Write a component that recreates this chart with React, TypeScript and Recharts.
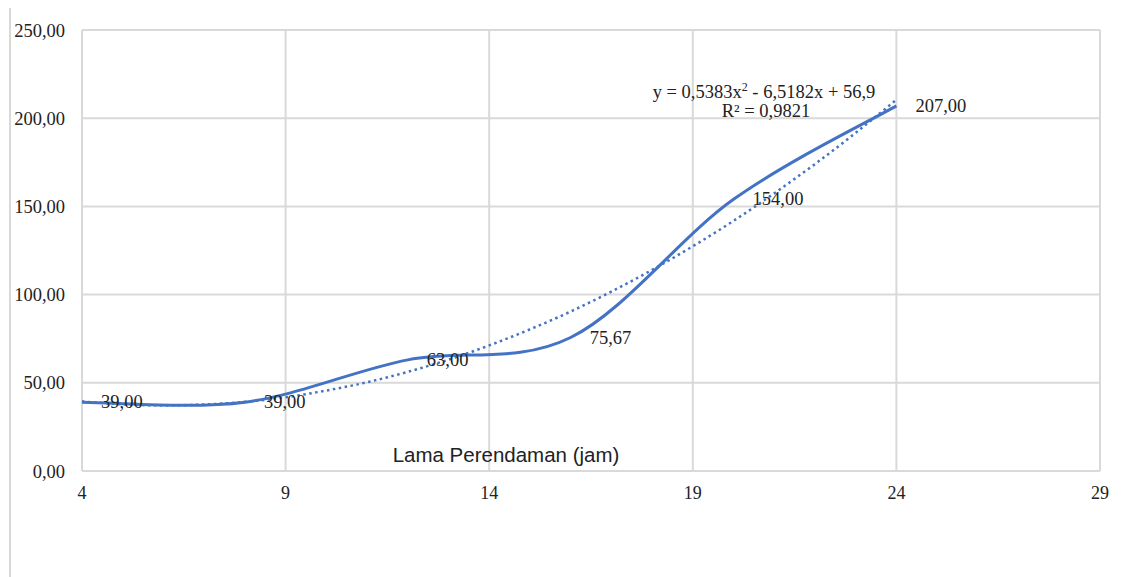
import { LineChart, Line, XAxis, YAxis, CartesianGrid, LabelList } from 'recharts';

const hours = [4, 8, 12, 16, 20, 24];
const rate = [39, 39, 63, 75.67, 154, 207];

// polynomial trendline
const trendHours = [4, 5, 6, 7, 8, 9, 10, 11, 12, 13, 14, 15, 16, 17, 18, 19, 20, 21, 22, 23, 24];
const trendRate = [39.4, 37.8, 37.2, 37.7, 39.2, 41.8, 45.6, 50.3, 56.2, 63.1, 71.2, 80.3, 90.4, 101.7, 114.0, 127.4, 141.8, 157.4, 174.0, 191.7, 210.5];

const xTicks = [4, 9, 14, 19, 24, 29];
const yTicks = [0, 50, 100, 150, 200, 250];

const BLUE = '#4472C4';
const GRID = '#d9d9d9';
const SERIF = '"Liberation Serif", "Times New Roman", serif';

const mainData = hours.map((h, i) => ({ x: h, y: rate[i] }));
const trendData = trendHours.map((h, i) => ({ x: h, y: trendRate[i] }));

const fmt = (v: number) => v.toFixed(2).replace('.', ',');

// Excel-style smoothed line (Catmull-Rom through the points)
function excelSmooth(context: any) {
  let pts: number[][] = [];
  return {
    areaStart() {},
    areaEnd() {},
    lineStart() {
      pts = [];
    },
    lineEnd() {
      const n = pts.length;
      if (!n) return;
      context.moveTo(pts[0][0], pts[0][1]);
      for (let i = 0; i < n - 1; i++) {
        const p0 = pts[Math.max(i - 1, 0)];
        const p1 = pts[i];
        const p2 = pts[i + 1];
        const p3 = pts[Math.min(i + 2, n - 1)];
        context.bezierCurveTo(
          p1[0] + (p2[0] - p0[0]) / 6,
          p1[1] + (p2[1] - p0[1]) / 6,
          p2[0] - (p3[0] - p1[0]) / 6,
          p2[1] - (p3[1] - p1[1]) / 6,
          p2[0],
          p2[1]
        );
      }
    },
    point(x: number, y: number) {
      pts.push([+x, +y]);
    },
  };
}

const PointLabel = (props: any) => {
  const { x, y, value } = props;
  return (
    <text x={x + 19} y={y + 6} fontFamily={SERIF} fontSize={18.5} fill="#222">
      {fmt(value)}
    </text>
  );
};

export default function App() {
  return (
    <div style={{ position: 'absolute', left: 0, top: 0, width: 1134, height: 577, background: '#fff' }}>
      <div style={{ position: 'absolute', left: 9, top: 8, width: 2, height: 569, background: GRID }} />
      <LineChart
        width={1134}
        height={577}
        margin={{ top: 30, right: 34, bottom: 76, left: 0 }}
      >
        <CartesianGrid stroke={GRID} strokeWidth={2} horizontalValues={yTicks} verticalValues={xTicks} />
        <XAxis
          type="number"
          dataKey="x"
          domain={[4, 29]}
          ticks={xTicks}
          allowDataOverflow
          height={30}
          axisLine={{ stroke: GRID, strokeWidth: 2 }}
          tickLine={false}
          tickSize={0}
          tickMargin={15}
          tick={{ fontFamily: SERIF, fontSize: 18, fill: '#222' }}
        />
        <YAxis
          type="number"
          dataKey="y"
          domain={[0, 250]}
          ticks={yTicks}
          width={82}
          axisLine={false}
          tickLine={false}
          tickSize={0}
          tickMargin={17}
          tickFormatter={fmt}
          tick={{ fontFamily: SERIF, fontSize: 18.5, fill: '#222' }}
        />
        <Line
          data={trendData}
          dataKey="y"
          type="natural"
          stroke={BLUE}
          strokeWidth={2.5}
          strokeDasharray="2.5 3.5"
          dot={false}
          activeDot={false}
          isAnimationActive={false}
        />
        <Line
          data={mainData}
          dataKey="y"
          type={excelSmooth as any}
          stroke={BLUE}
          strokeWidth={3}
          dot={false}
          activeDot={false}
          isAnimationActive={false}
        >
          <LabelList dataKey="y" content={PointLabel} />
        </Line>
        <text x={506} y={462} textAnchor="middle" fontFamily='"Liberation Sans", Arial, sans-serif' fontSize={20.5} fill="#222">
          Lama Perendaman (jam)
        </text>
        <text x={764} y={98} textAnchor="middle" fontFamily={SERIF} fontSize={18.5} fill="#222">
          y = 0,5383x<tspan dy={-7} fontSize={12}>2</tspan>
          <tspan dy={7}> - 6,5182x + 56,9</tspan>
        </text>
        <text x={766} y={117} textAnchor="middle" fontFamily={SERIF} fontSize={18.5} fill="#222">
          R² = 0,9821
        </text>
      </LineChart>
    </div>
  );
}
